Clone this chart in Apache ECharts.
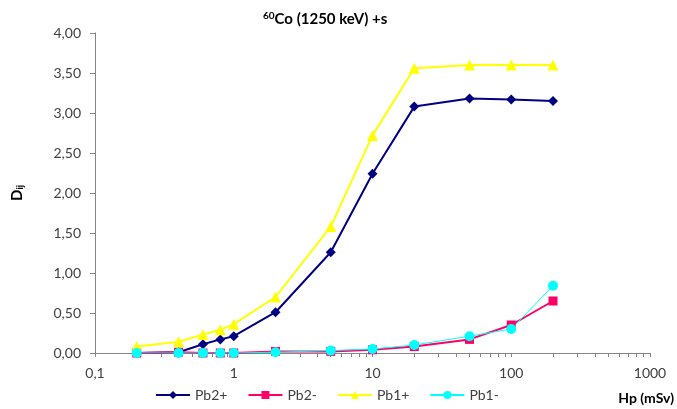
<!DOCTYPE html>
<html><head><meta charset="utf-8">
<script src="https://cdn.jsdelivr.net/npm/echarts@6/dist/echarts.min.js"></script>
<style>html,body{margin:0;padding:0;background:#fff}#c{width:677px;height:409px}</style>
</head><body><div id="c"></div>
<script>
const hp = [0.2, 0.4, 0.6, 0.8, 1, 2, 5, 10, 20, 50, 100, 200];
const pb2plus = [0.00, 0.01, 0.11, 0.17, 0.21, 0.51, 1.26, 2.24, 3.08, 3.18, 3.17, 3.15];
const pb2minus = [0.00, 0.01, 0.00, 0.00, 0.00, 0.02, 0.02, 0.04, 0.08, 0.17, 0.35, 0.65];
const pb1plus = [0.08, 0.14, 0.23, 0.29, 0.36, 0.70, 1.58, 2.72, 3.56, 3.60, 3.60, 3.60];
const pb1minus = [0.00, 0.00, 0.00, 0.00, 0.00, 0.01, 0.03, 0.05, 0.10, 0.21, 0.30, 0.84];
const xTickValues = [0.1,0.2,0.3,0.4,0.5,0.6,0.7,0.8,0.9,1,2,3,4,5,6,7,8,9,10,20,30,40,50,60,70,80,90,100,200,300,400,500,600,700,800,900,1000];
const xLabelValues = [0.1, 1, 10, 100, 1000];

const font = 'Lato, "Open Sans", sans-serif';
const pair = arr => hp.map((x, i) => [x, arr[i]]);
const chart = echarts.init(document.getElementById('c'));
const axisCol = '#868686';
const textCol = '#404040';
chart.setOption({
  animation: false,
  textStyle: {fontFamily: font},
  title: {
    text: '{sup|60}{t|Co (1250 keV) +s}',
    left: 258, top: 6,
    textStyle: {
      rich: {
        sup: {fontSize: 10, fontWeight: 'bold', fontFamily: font, color: '#000', verticalAlign: 'top', padding: [0,0,7,0]},
        t: {fontSize: 15, fontWeight: 'bold', fontFamily: font, color: '#000'}
      }
    }
  },
  grid: {left: 95, right: 24, top: 33, bottom: 56, containLabel: false},
  legend: {
    bottom: 2, left: 150,
    itemWidth: 34, itemHeight: 10, itemGap: 20,
    textStyle: {fontSize: 14, color: textCol, fontFamily: font},
    data: ['Pb2+', 'Pb2-', 'Pb1+', 'Pb1-']
  },
  xAxis: {
    type: 'log', logBase: 10, min: 0.1, max: 1000,
    name: 'Hp (mSv)', nameLocation: 'end', nameGap: 24,
    nameTextStyle: {fontSize: 14, fontWeight: 'bold', color: '#000', align: 'right', verticalAlign: 'top', padding: [38,0,0,0]},
    axisLine: {show: true, onZero: false, lineStyle: {color: axisCol, width: 1}},
    axisTick: {show: true, inside: false, length: 4, customValues: xTickValues, lineStyle: {color: axisCol}},
    axisLabel: {customValues: xLabelValues, fontSize: 14, color: textCol, margin: 13,
      formatter: v => String(v).replace('.', ',')},
    splitLine: {show: false}
  },
  yAxis: {
    type: 'value', min: 0, max: 4, interval: 0.5,
    name: '{d|D}{s|ij}', nameLocation: 'middle', nameGap: 70, nameRotate: 90,
    nameTextStyle: {rich: {
      d: {fontSize: 15, fontWeight: 'bold', color: '#000', fontFamily: font},
      s: {fontSize: 9, fontWeight: 'bold', color: '#000', fontFamily: font, verticalAlign: 'bottom', padding: [6,0,0,0]}
    }},
    axisLine: {show: true, lineStyle: {color: axisCol, width: 1}},
    axisTick: {show: true, inside: false, length: 5, lineStyle: {color: axisCol}},
    axisLabel: {fontSize: 14, color: textCol, margin: 14,
      formatter: v => v.toFixed(2).replace('.', ',')},
    splitLine: {show: false}
  },
  series: [
    {name: 'Pb2+', type: 'line', data: pair(pb2plus), symbol: 'diamond', symbolSize: 10,
      itemStyle: {color: '#000080'}, lineStyle: {color: '#000080', width: 2}},
    {name: 'Pb2-', type: 'line', data: pair(pb2minus), symbol: 'rect', symbolSize: 9,
      itemStyle: {color: '#FF0066'}, lineStyle: {color: '#FF0066', width: 2}},
    {name: 'Pb1+', type: 'line', data: pair(pb1plus), symbol: 'triangle', symbolSize: 11,
      itemStyle: {color: '#FFFF00'}, lineStyle: {color: '#FFFF00', width: 2}},
    {name: 'Pb1-', type: 'line', data: pair(pb1minus), symbol: 'circle', symbolSize: 10,
      itemStyle: {color: '#00FFFF'}, lineStyle: {color: '#00FFFF', width: 1}}
  ]
});
</script></body></html>
